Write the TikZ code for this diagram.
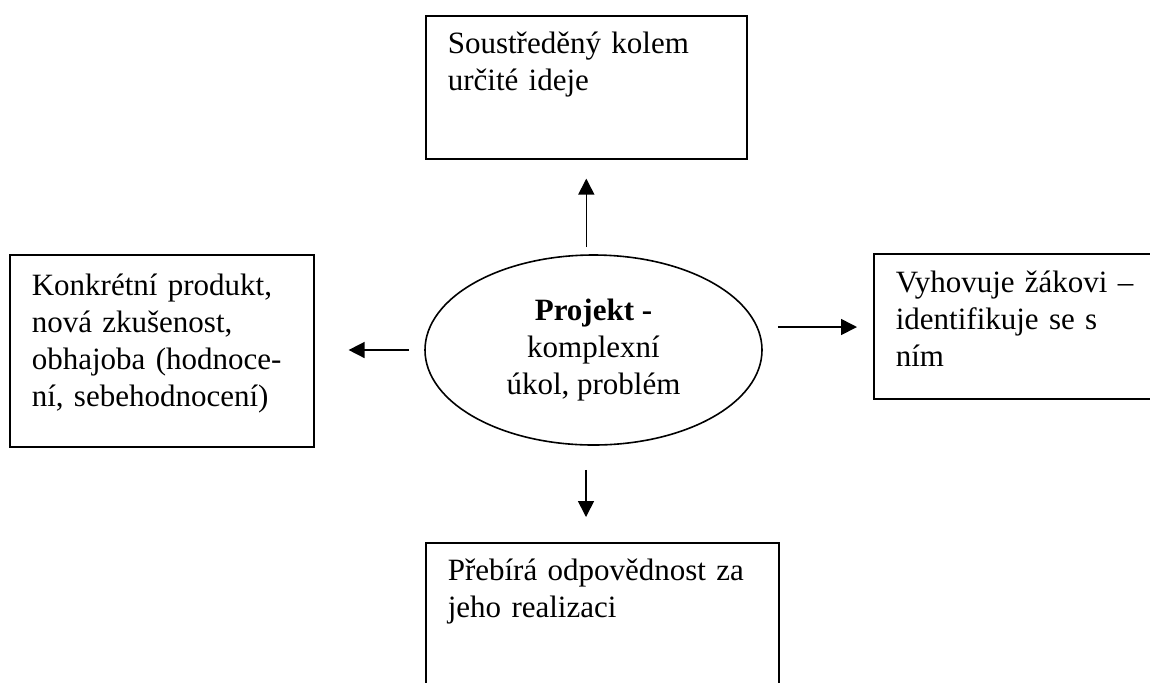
\documentclass[tikz,border=0pt]{standalone}
\usepackage{fontspec}
\setmainfont{Liberation Serif}
\usetikzlibrary{arrows.meta,shapes.geometric}

\tikzset{
    box/.style={draw, line width=0.8pt, rectangle, anchor=north west, align=left,
        inner xsep=11pt, inner ysep=0pt},
    arr/.style={-{Triangle[length=8pt,width=8pt]}, line width=0.8pt},
}
\newcommand{\topstrut}[1]{\rule{0pt}{#1}}
\newcommand{\botstrut}[1]{\rule[-#1]{0pt}{0pt}}

\begin{document}
\begin{tikzpicture}[x=0.5pt, y=-0.5pt, font=\fontsize{15.5pt}{18.5pt}\selectfont]

        \useasboundingbox (0,0) rectangle (1150,682);
        \clip (0,0) rectangle (1150,682);

        % 1. Ellisse centrale
        \node[draw, ellipse, line width=0.8pt, minimum width=168.5pt, minimum height=95pt,
            inner sep=0pt, align=center] (proj) at (593.5,350)
            {\textbf{Projekt -}\\komplexní\\úkol, problém};

        % 2. Rettangoli intorno
        \node[box, text width=138.5pt] (idea) at (425,15)
            {\topstrut{19pt}Soustředěný kolem\\určité ideje\botstrut{34pt}};
        \node[box, text width=130pt] (prod) at (9,254)
            {\topstrut{20.5pt}Konkrétní produkt,\\nová zkušenost,\\obhajoba (hodnoce-\\ní, sebehodnocení)\botstrut{20pt}};
        \node[box, text width=141.5pt] (fit) at (873,253)
            {\topstrut{19.5pt}Vyhovuje žákovi –\\identifikuje se s\\ním\botstrut{16pt}};
        \node[box, text width=154.5pt] (resp) at (425,542)
            {\topstrut{19pt}Přebírá odpovědnost za\\jeho realizaci\botstrut{60pt}};

        % 3. Frecce
        \draw[arr, shorten <=3.5pt, shorten >=9.5pt] (proj.north -| idea.south) -- (idea.south);
        \draw[arr, shorten <=7.5pt, shorten >=17pt] (proj.west) -- (proj.west -| prod.east);
        \draw[arr, shorten <=7.5pt, shorten >=8pt] ([yshift=11.5pt]proj.east) -- ([yshift=11.5pt]proj.east -| fit.west);
        \draw[arr, shorten <=12pt, shorten >=12.5pt] ([xshift=-3.75pt]proj.south) -- ([xshift=-3.75pt]proj.south |- resp.north);

    \end{tikzpicture}
\end{document}
